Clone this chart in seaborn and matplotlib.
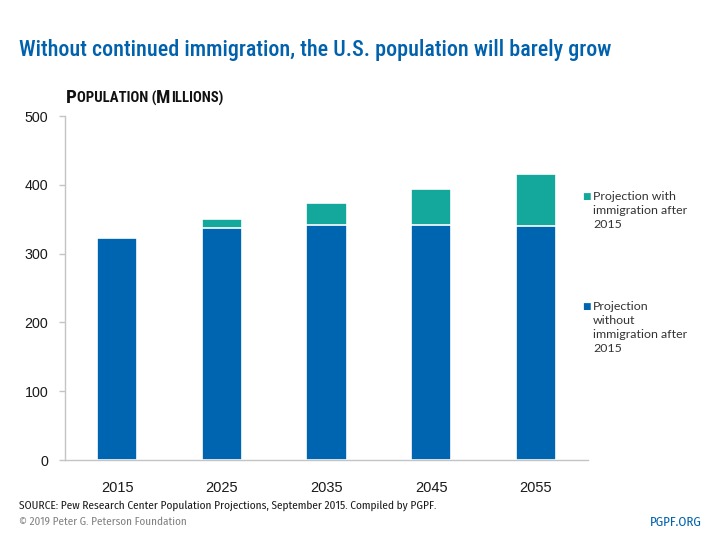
import matplotlib
matplotlib.use("Agg")
import matplotlib.pyplot as plt
import seaborn as sns
import pandas as pd
from matplotlib.offsetbox import TextArea, HPacker, AnchoredOffsetbox

years = ["2015", "2025", "2035", "2045", "2055"]
without_imm = [322, 337, 342, 342, 340]
with_imm_total = [322, 350, 373, 394, 416]
yticks = [0, 100, 200, 300, 400, 500]
legend_with = ["Projection with", "immigration after", "2015"]
legend_without = ["Projection", "without", "immigration after", "2015"]

BLUE = "#0065b1"
TEAL = "#14a89c"
TITLE_BLUE = "#0061ac"

sns.set_theme(style="white")
plt.rcParams["font.family"] = ["Liberation Sans", "DejaVu Sans"]

df = pd.DataFrame({"year": years, "base": without_imm, "total": with_imm_total})

fig = plt.figure(figsize=(7.2, 5.4), dpi=100)
ax = fig.add_axes([65/720, 1-460/540, (588-65)/720, (460-116)/540])

sns.barplot(data=df, x="year", y="total", color=TEAL, width=0.385,
            edgecolor="white", linewidth=1.2, ax=ax, saturation=1)
sns.barplot(data=df, x="year", y="base", color=BLUE, width=0.385,
            edgecolor="white", linewidth=1.2, ax=ax, saturation=1)

ax.set_ylim(0, 500)
ax.set_xlim(-0.5, 4.5)
ax.set_yticks(yticks)
ax.set_xlabel("")
ax.set_ylabel("")
for s in ["top", "right"]:
    ax.spines[s].set_visible(False)
for s in ["left", "bottom"]:
    ax.spines[s].set_color("#c4c4c4")
    ax.spines[s].set_linewidth(1.0)
ax.tick_params(axis="y", which="both", left=True, length=4, width=1, color="#c4c4c4",
               labelsize=10.3, pad=8, labelcolor="#1a1a1a")
ax.tick_params(axis="x", bottom=False, labelsize=10.5, pad=9, labelcolor="#1a1a1a")

renderer = fig.canvas.get_renderer()

def fit_text(x, y, s, target_w, **kw):
    t = fig.text(x, y, s, **kw)
    w = t.get_window_extent(renderer).width
    t.set_fontsize(t.get_fontsize() * target_w / w)
    return t

# Title
fit_text(19/720, 1-50/540, "Without continued immigration, the U.S. population will barely grow",
         594, fontsize=15, color=TITLE_BLUE, ha="left", va="center",
         family=["Roboto Condensed", "DejaVu Sans"], fontweight="medium")

# Small caps y-axis title
parts = [("P", 13.6), ("OPULATION (", 10.6), ("M", 13.6), ("ILLIONS)", 10.6)]
areas = [TextArea(t, textprops=dict(fontsize=s, fontweight="bold", color="#111111",
                                     family=["Roboto Condensed", "DejaVu Sans"]))
         for t, s in parts]
pack = HPacker(children=areas, align="baseline", pad=0, sep=0)
anch = AnchoredOffsetbox(loc="lower left", child=pack, pad=0, frameon=False,
                         bbox_to_anchor=(66/720, 1-107/540), bbox_transform=fig.transFigure,
                         borderpad=0)
fig.add_artist(anch)

# Legend
leg_font = ["Lato", "DejaVu Sans"]
probe = fig.text(0, 0, "immigration after", fontsize=10, family=leg_font)
leg_size = 10 * 94 / probe.get_window_extent(renderer).width
probe.remove()

def legend_block(y0, lines, color):
    fig.text(582/720, 1-y0/540, "■", fontsize=6.5, color=color, va="center", ha="left",
             family=["DejaVu Sans"])
    for i, line in enumerate(lines):
        fig.text(593/720, 1-(y0 + 13.8*i)/540, line, fontsize=leg_size,
                 color="#333333", va="center", ha="left", family=leg_font)

legend_block(197, legend_with, TEAL)
legend_block(307, legend_without, BLUE)

# Footer
foot_font = ["Fira Sans Condensed", "DejaVu Sans"]
fit_text(19/720, 1-506/540, "SOURCE: Pew Research Center Population Projections, September 2015. Compiled by PGPF.",
         422, fontsize=8.5, color="#1a1a1a", va="center", ha="left", family=foot_font)
fit_text(19/720, 1-522/540, "© 2019 Peter G. Peterson Foundation", 168,
         fontsize=8.5, color="#808080", va="center", ha="left", family=foot_font)
fit_text(702/720, 1-522/540, "PGPF.ORG", 52, fontsize=8.5, color=TITLE_BLUE,
         va="center", ha="right", family=foot_font)

fig.savefig("out.png", dpi=100)
